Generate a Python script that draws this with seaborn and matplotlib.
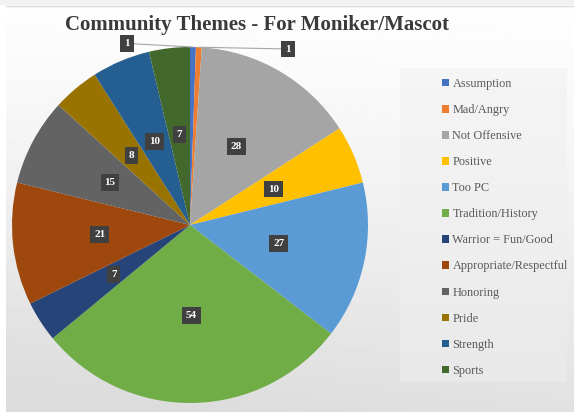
import numpy as np
import matplotlib
matplotlib.use("Agg")
import matplotlib.pyplot as plt
from matplotlib.patches import Patch, Rectangle
import seaborn as sns

categories = ["Assumption", "Mad/Angry", "Not Offensive", "Positive", "Too PC",
              "Tradition/History", "Warrior = Fun/Good", "Appropriate/Respectful",
              "Honoring", "Pride", "Strength", "Sports"]
counts = [1, 1, 28, 10, 27, 54, 7, 21, 15, 8, 10, 7]
colors = ["#4472C4", "#ED7D31", "#A5A5A5", "#FFC000", "#5B9BD5", "#70AD47",
          "#264478", "#9E480E", "#636363", "#997300", "#255E91", "#43682B"]
title = "Community Themes - For Moniker/Mascot"

sns.set_theme(style="white")
plt.rcParams["font.family"] = ["Liberation Serif", "DejaVu Serif"]

W, H = 574, 412
fig = plt.figure(figsize=(W / 100, H / 100), dpi=100)
fig.patch.set_facecolor("white")

# background gradient (chart area)
bg = fig.add_axes([6 / W, 0, 1 - 6 / W, 1 - 6 / H])
yy, xx = np.mgrid[0:1:200j, 0:1:200j]
t = 0.85 * yy + 0.2 * (1 - xx) * yy
bg.imshow(0.995 - 0.135 * np.clip(t, 0, 1) ** 1.2, cmap="gray", vmin=0, vmax=1,
          aspect="auto", extent=[0, 1, 0, 1], origin="upper")
bg.set_axis_off()
# top strip
fig.patches.append(Rectangle((0, 1 - 5 / H), 1, 5 / H, transform=fig.transFigure,
                             facecolor="#f1f1f1", edgecolor="none", zorder=0.5))
fig.add_artist(plt.Line2D([6 / W, 1], [1 - 6 / H, 1 - 6 / H], color="#dadada", lw=1.0))

# legend box gradient
lg = fig.add_axes([400 / W, (H - 382) / H, 166 / W, (382 - 68) / H])
gy = np.linspace(0, 1, 100)[:, None] * np.ones((1, 10))
lg.imshow(0.96 - 0.05 * gy, cmap="gray", vmin=0, vmax=1, aspect="auto",
          extent=[0, 1, 0, 1], origin="upper")
lg.set_axis_off()

# pie
ax = fig.add_axes([12 / W, 9 / H, 356 / W, 356 / H])
ax.set_facecolor("none")
wedges, texts, autotexts = ax.pie(
    counts, colors=colors, startangle=90, counterclock=False,
    autopct=lambda p: ("%d" % round(p * sum(counts) / 100)) if p * sum(counts) / 100 > 1.5 else "",
    pctdistance=0.51, wedgeprops=dict(linewidth=0))
ax.set_xlim(-1, 1)
ax.set_ylim(-1, 1)
ax.set_aspect("equal")
for t_ in autotexts:
    t_.set_color("white")
    t_.set_fontweight("bold")
    t_.set_fontsize(8)
    t_.set_bbox(dict(boxstyle="square,pad=0.35", facecolor="#404040", edgecolor="none"))

# small slices labelled outside with leader lines
offsets = {0: (-0.37, 0.02), 1: (0.50, -0.01)}
for i, (dx, dy) in offsets.items():
    w = wedges[i]
    th = np.deg2rad((w.theta1 + w.theta2) / 2)
    ex, ey = np.cos(th), np.sin(th)
    ax.annotate(str(counts[i]), xy=(ex, ey), xytext=(ex + dx, ey + dy),
                ha="center", va="center", color="white", fontweight="bold", fontsize=8,
                bbox=dict(boxstyle="square,pad=0.35", facecolor="#404040", edgecolor="none"),
                arrowprops=dict(arrowstyle="-", color="#a6a6a6", lw=0.8,
                                shrinkA=0, shrinkB=0),
                annotation_clip=False)

fig.text(257 / W, 1 - 25 / H, title, ha="center", va="center",
         fontsize=15, fontweight="bold", color="#3a3a3a")

handles = [Patch(facecolor=c, edgecolor="none") for c in colors]
fig.legend(handles, categories, loc="upper left",
           bbox_to_anchor=(436 / W, 1 - 72 / H), frameon=False,
           fontsize=8.8, labelcolor="#595959", handlelength=0.55, handleheight=0.55,
           handletextpad=0.3, labelspacing=1.15, borderpad=0)

fig.savefig("out.png", dpi=100)
